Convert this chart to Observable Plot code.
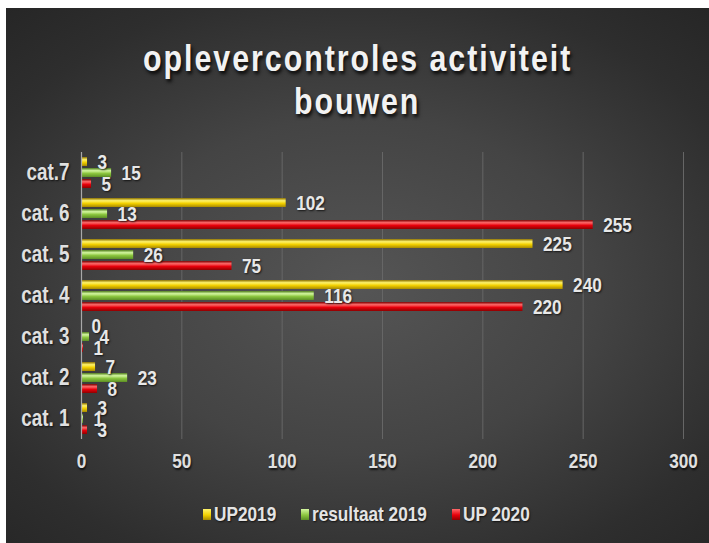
<!DOCTYPE html>
<html><head><meta charset="utf-8">
<script src="https://cdn.jsdelivr.net/npm/d3@7"></script>
<script src="https://cdn.jsdelivr.net/npm/@observablehq/plot@0.6"></script>
<style>
html,body{margin:0;padding:0;background:#fff;width:709px;height:543px;overflow:hidden}
#panel{position:absolute;left:6px;top:8px;width:703px;height:535px;
  background:radial-gradient(ellipse 75% 70% at 50% 52%, #555555 0%, #444444 45%, #2e2e2e 80%, #262626 100%);
  font-family:"Liberation Sans",Arial,sans-serif;}
#title{position:absolute;left:0;width:703px;top:0;height:130px;color:#f2f2f2;font-weight:bold;
  font-size:37px;letter-spacing:2.4px;text-shadow:2px 3px 4px rgba(0,0,0,0.85);}
.tl{position:absolute;left:0;width:703px;text-align:center;line-height:37px;}
.tl span{display:inline-block;transform:scaleX(0.82);transform-origin:center;white-space:nowrap}
#chart{position:absolute;left:0;top:132px;}
#legend{position:absolute;top:494px;left:0;width:703px;height:24px;}
.item{position:absolute;top:0;display:flex;align-items:center;color:#e4e4e4;font-size:21px;font-weight:bold;white-space:nowrap;text-shadow:1px 1px 2px rgba(0,0,0,0.7)}
.item span{display:inline-block;transform:scaleX(0.82);transform-origin:left center}
.sw{width:8px;height:11px;margin-right:3px;}
</style></head><body>
<div id="panel">
  <div id="title"><div class="tl" style="top:32px"><span>oplevercontroles activiteit</span></div><div class="tl" style="top:75px"><span>bouwen</span></div></div>
  <div id="chart"></div>
  <div id="legend"></div>
</div>
<script>
const categories = ["cat. 1","cat. 2","cat. 3","cat. 4","cat. 5","cat. 6","cat.7"];
const seriesNames = ["UP2019","resultaat 2019","UP 2020"];
const up2019 = [3, 7, 0, 240, 225, 102, 3];
const resultaat2019 = [1, 23, 4, 116, 26, 13, 15];
const up2020 = [3, 8, 1, 220, 75, 255, 5];
const xTicks = [0, 50, 100, 150, 200, 250, 300];

const seriesValues = [up2019, resultaat2019, up2020];
const gradIds = ["gY","gG","gR"];
const gradStops = [
  ["#8a6f00","#fff36b","#f2d000","#a88a00"],
  ["#4f7d1c","#d4f7a0","#8cc63f","#5c8f25"],
  ["#7a0000","#ff6a6a","#e8000b","#8f0000"]
];
const data = [];
seriesNames.forEach((s, i) => categories.forEach((c, j) => data.push({cat: c, series: s, value: seriesValues[i][j], si: i})));

const labelFont = '"Liberation Sans",Arial,sans-serif';

const chart = Plot.plot({
  width: 703,
  height: 350,
  marginTop: 10,
  marginBottom: 50,
  marginLeft: 75,
  marginRight: 26,
  style: {background: "transparent", color: "#e4e4e4", fontFamily: labelFont, fontSize: "21px"},
  x: {domain: [0, 300], ticks: xTicks, label: null},
  fy: {domain: categories.slice().reverse(), padding: 0, label: null},
  y: {domain: seriesNames, paddingInner: 0.16, paddingOuter: 0.36, axis: null},
  marks: [
    Plot.ruleX(xTicks.slice(1), {stroke: "#666666", strokeWidth: 1}),
    ...seriesNames.map((s, i) => Plot.barX(data.filter(d => d.si === i), {fy: "cat", y: "series", x: "value", fill: `url(#${gradIds[i]})`})),
    Plot.ruleX([0], {stroke: "#a8a8a8", strokeWidth: 1.2}),
    Plot.text(data, {fy: "cat", y: "series", x: "value", text: d => String(d.value), textAnchor: "start", dx: 10, fill: "#e8e8e8", fontSize: 21, fontWeight: "bold"}),
    Plot.axisX({ticks: xTicks, tickSize: 0, tickPadding: 14, fontSize: 21, fontWeight: "bold", fill: "#e0e0e0", label: null}),
    Plot.axisFy({anchor: "left", tickSize: 0, tickPadding: 12, fontSize: 23, fontWeight: "bold", fill: "#e0e0e0", label: null})
  ]
});

// gradient defs for cylindrical bars
const ns = "http://www.w3.org/2000/svg";
const defs = document.createElementNS(ns, "defs");
gradIds.forEach((id, i) => {
  const g = document.createElementNS(ns, "linearGradient");
  g.setAttribute("id", id); g.setAttribute("x1", "0"); g.setAttribute("y1", "0"); g.setAttribute("x2", "0"); g.setAttribute("y2", "1");
  [[0, gradStops[i][0]],[0.3, gradStops[i][1]],[0.6, gradStops[i][2]],[1, gradStops[i][3]]].forEach(([o, c]) => {
    const st = document.createElementNS(ns, "stop");
    st.setAttribute("offset", o); st.setAttribute("stop-color", c);
    g.appendChild(st);
  });
  defs.appendChild(g);
});
chart.insertBefore(defs, chart.firstChild);
// narrow the text horizontally (Arial Narrow look)
chart.querySelectorAll("text").forEach(t => {
  const tr = t.getAttribute("transform");
  t.setAttribute("transform", (tr ? tr + " " : "") + "scale(0.82,1)");
  t.style.textShadow = "1px 1px 2px rgba(0,0,0,0.7)";
});
document.getElementById("chart").appendChild(chart);

// legend
const legend = document.getElementById("legend");
const legendX = [197, 295, 446];
seriesNames.forEach((s, i) => {
  const it = document.createElement("div");
  it.className = "item";
  it.style.left = legendX[i] + "px";
  const sw = document.createElement("div");
  sw.className = "sw";
  sw.style.background = `linear-gradient(to bottom, ${gradStops[i][1]}, ${gradStops[i][2]} 55%, ${gradStops[i][3]})`;
  it.appendChild(sw);
  const tx = document.createElement("span");
  tx.textContent = s;
  it.appendChild(tx);
  legend.appendChild(it);
});
</script>
</body></html>
